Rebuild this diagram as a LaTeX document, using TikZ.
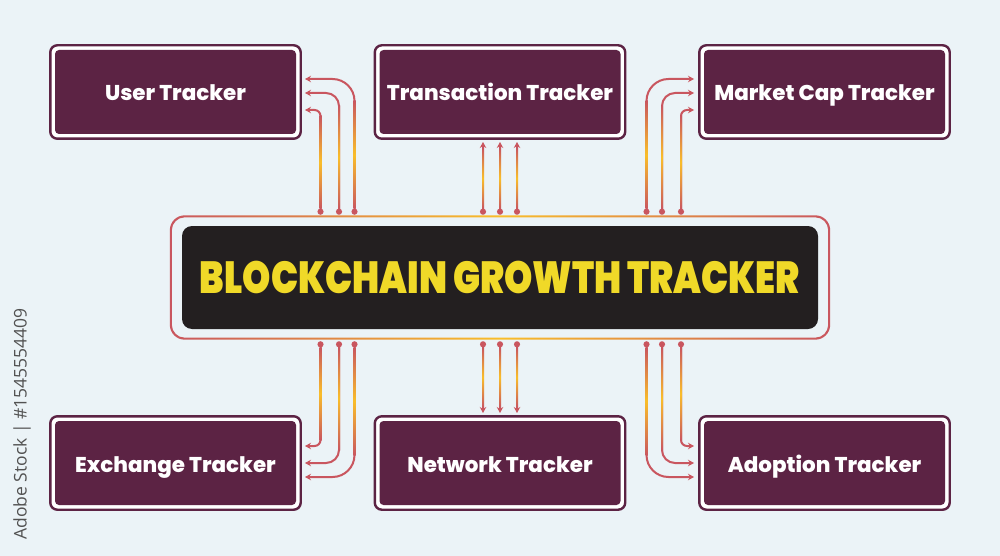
\documentclass[tikz,border=0pt]{standalone}
\usepackage{fontspec}
\setmainfont{Poppins}
\newfontfamily\titlefont{Poppins Black}
\newfontfamily\trackerfont{Poppins ExtraBold}
\newfontfamily\stockfont{Open Sans}
\usetikzlibrary {arrows.meta, positioning, fit}
\definecolor{pagebg}{HTML}{EBF3F7}
\definecolor{plum}{HTML}{5C2344}
\definecolor{rosy}{HTML}{C9565F}
\definecolor{glow}{HTML}{F9BE2A}
\definecolor{hubdark}{HTML}{231F20}
\definecolor{hubtext}{HTML}{F0D928}

\begin{document}
\begin{tikzpicture}[x=1pt,y=-1pt,node distance=324.5pt,on grid,
      tracker/.style={fill=plum,rounded corners=4pt,minimum width=241pt,minimum height=84pt,
        text=white,font=\trackerfont\fontsize{21.4}{25}\selectfont,inner sep=0pt,text height=18pt,text depth=0pt},
      trackerframe/.style={draw=plum,line width=2.4pt,fill=white,rounded corners=7pt,inner sep=4.5pt},
      hubframe/.style={fill=pagebg,inner sep=0pt,minimum width=658pt,minimum height=122pt},
      hub/.style={fill=hubdark,rounded corners=10pt,minimum width=636pt,minimum height=103pt,
        inner sep=0pt,text=hubtext},
      link/.style={draw=rosy,line width=2pt,arrows={Circle[length=6pt]-Stealth[length=6pt,width=6.5pt]}},
      linkglow/.style={top color=rosy,bottom color=rosy,middle color=glow}]
      \fill[pagebg] (0,0) rectangle (1000,556);
      % boxes
      \node[tracker]  (user) at (175.5,92) {};
      \node[tracker]  (transaction) [right=of user] {};
      \node[tracker]  (marketcap) [right=of transaction] {};
      \node[tracker]  (exchange) [below=371pt of user] {};
      \node[tracker]  (network) [right=of exchange] {};
      \node[tracker]  (adoption) [right=of network] {};
      \foreach \trk/\trktext in {user/User Tracker, transaction/Transaction Tracker, marketcap/Market Cap Tracker,
        exchange/Exchange Tracker, network/Network Tracker, adoption/Adoption Tracker} {
        \node[trackerframe, fit=(\trk)] (\trk frame) {};
        \node[tracker] (\trk fill) at (\trk) {\trktext};
      }
      % centre
      \node[hubframe] (hubring) at (500,277.5) {};
      \shade[left color=rosy,right color=rosy,middle color=glow,even odd rule]
        [rounded corners=15pt] ([shift={(-1pt,1pt)}]hubring.north west) rectangle ([shift={(1pt,-1pt)}]hubring.south east)
        [rounded corners=13pt] ([shift={(1pt,-1pt)}]hubring.north west) rectangle ([shift={(-1pt,1pt)}]hubring.south east);
      \node[hub] (hub) at (hubring) {\titlefont\fontsize{47}{50}\selectfont\resizebox{600pt}{!}{\scalebox{1}[1.25]{BLOCKCHAIN GROWTH TRACKER}}};
      \node[rotate=90,text=black!68,font=\stockfont\fontsize{17.5}{20}\selectfont] (stock) at (22,424) {Adobe Stock | \#1545554409};
      % connector ends
      \foreach \name/\x/\y in {ua/320.5/214.7, ub/339/214.7, uc/354.5/214.7, ta/483/214.7, tb/500/214.7, tc/517/214.7,
        ma/646.5/214.7, mb/662/214.7, mc/681/214.7, ea/320.5/341.3, eb/339/341.3, ec/354.5/341.3, na/483/341.3, nb/500/341.3, nc/517/341.3,
        aa/646.5/341.3, ab/662/341.3, ac/681/341.3}
        \coordinate (\name) at (\x,\y);
      \foreach \name/\x/\y in {ut/305/79, uu/305/93, uv/305/110, tt/483/142, tu/500/142, tv/517/142,
        mt/694/79, mu/694/93, mv/694/110, et/305/446, eu/305/463, ev/305/477, nt/483/413, nu/500/413, nv/517/413,
        at/694/446, au/694/463, av/694/477}
        \coordinate (\name) at (\x,\y);
      % links
      \foreach \from/\to/\rad/\off/\st in {ua/uv/6/-6/6, ub/uu/13/-13/6, uc/ut/22/-22/6, ma/mt/22/-22/6, mb/mu/13/-13/6, mc/mv/6/-6/6,
        ea/et/6/6/-6, eb/eu/13/13/-6, ec/ev/22/22/-6, aa/av/22/22/-6, ab/au/13/13/-6, ac/at/6/6/-6} {
        \draw[link,rounded corners=\rad pt] (\from) |- (\to);
        \shade[linkglow] ([xshift=-1pt,yshift=\st pt]\from) rectangle ([xshift=1pt,yshift=\off pt]\from |- \to);
      }
      \foreach \from/\to/\st in {ta/tt/6, tb/tu/6, tc/tv/6, na/nt/-6, nb/nu/-6, nc/nv/-6} {
        \draw[link] (\from) -- (\to);
        \shade[linkglow] ([xshift=-1pt,yshift=\st pt]\from) rectangle ([xshift=1pt,yshift=-\st pt]\to);
      }
    \end{tikzpicture}
\end{document}
